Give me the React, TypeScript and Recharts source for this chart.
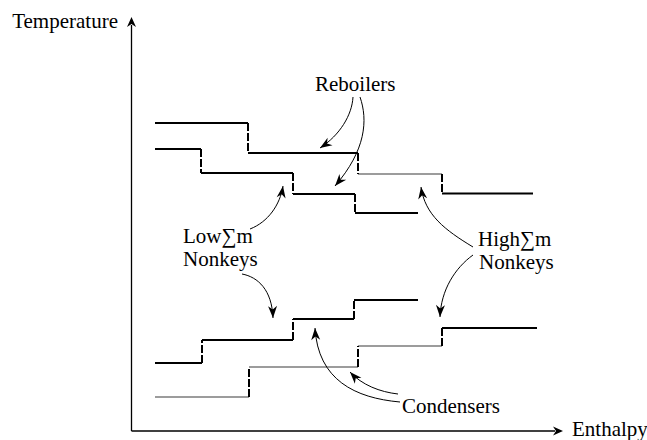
import React from 'react';
import { LineChart, Line, XAxis, YAxis } from 'recharts';

const WIDTH = 647;
const HEIGHT = 440;
const MARGIN = { top: 21, right: 86, bottom: 9, left: 131 };
const X_MAX = 43;
const Y_MAX = 41;

// step profiles: xs = step positions (incl. end), ys = level of each run
const profileAX = [2.4, 11.7, 22.7, 31.1, 40.2];
const profileAY = [30.8, 27.8, 25.7, 23.75];
const profileBX = [2.4, 7.0, 16.2, 22.4, 28.7];
const profileBY = [28.2, 25.8, 23.7, 21.8];
const profileCX = [2.4, 7.1, 16.2, 22.3, 28.7];
const profileCY = [6.8, 9.1, 11.2, 13.1];
const profileDX = [2.4, 11.8, 22.7, 31.1, 40.6];
const profileDY = [3.4, 6.4, 8.5, 10.3];

// annotation arrows (bezier: start, c1, c2, tip) in data units
const arrowPaths = [
  [[22.2, 33.4], [22.1, 31.6], [20.9, 29.6], [18.9, 28.3]],
  [[22.9, 33.4], [23.7, 31.1], [23.5, 28.1], [20.4, 24.5]],
  [[11.9, 20.2], [13.7, 20.9], [14.9, 22.6], [15.2, 24.5]],
  [[11.1, 15.7], [12.7, 15.4], [14.1, 14.1], [14.2, 11.3]],
  [[34.2, 18.4], [31.4, 20.1], [29.4, 21.6], [29.0, 24.4]],
  [[34.2, 17.6], [32.4, 16.3], [31.0, 14.1], [30.9, 11.4]],
  [[26.9, 2.9], [22.4, 3.3], [18.7, 5.1], [18.4, 10.3]],
  [[26.7, 3.7], [24.9, 3.9], [23.1, 4.6], [21.9, 5.9]],
];

const labelTexts = ['Reboilers', 'Low∑m', 'Nonkeys', 'High∑m', 'Nonkeys', 'Condensers'];
const labelPos = [[18.4, 34.0], [5.2, 18.85], [5.2, 16.55], [34.7, 18.5], [34.8, 16.2], [27.1, 1.8]];

const profiles = [
  { id: 'A', xs: profileAX, ys: profileAY, thin: [2] },
  { id: 'B', xs: profileBX, ys: profileBY, thin: [] as number[] },
  { id: 'C', xs: profileCX, ys: profileCY, thin: [] as number[] },
  { id: 'D', xs: profileDX, ys: profileDY, thin: [0, 1, 2] },
];

const sx = (x: number) => MARGIN.left + (x / X_MAX) * (WIDTH - MARGIN.left - MARGIN.right);
const sy = (y: number) => MARGIN.top + (1 - y / Y_MAX) * (HEIGHT - MARGIN.top - MARGIN.bottom);

function arrowHead(tx: number, ty: number, fx: number, fy: number, len = 12, half = 4.5) {
  const a = Math.atan2(ty - fy, tx - fx);
  const ux = Math.cos(a), uy = Math.sin(a);
  const bx = tx - ux * len, by = ty - uy * len;
  const nx = tx - ux * len * 0.7, ny = ty - uy * len * 0.7;
  return `${tx},${ty} ${bx - uy * half},${by + ux * half} ${nx},${ny} ${bx + uy * half},${by - ux * half}`;
}

const FONT = '"Liberation Serif", "DejaVu Serif", serif';
const FS = 21;

export default function App() {
  const series: React.ReactElement[] = [];
  profiles.forEach((p) => {
    p.ys.forEach((y, i) => {
      const thin = p.thin.includes(i);
      series.push(
        <Line
          key={`${p.id}-h${i}`}
          data={[{ x: p.xs[i], y }, { x: p.xs[i + 1], y }]}
          dataKey="y"
          type="linear"
          stroke={thin ? '#3a3a3a' : '#000'}
          strokeWidth={thin ? 1.2 : 2}
          dot={false}
          activeDot={false}
          isAnimationActive={false}
        />
      );
      if (i > 0) {
        series.push(
          <Line
            key={`${p.id}-v${i}`}
            data={[{ x: p.xs[i], y: p.ys[i - 1] }, { x: p.xs[i], y }]}
            dataKey="y"
            type="linear"
            stroke="#000"
            strokeWidth={2}
            strokeDasharray="8 2"
            dot={false}
            activeDot={false}
            isAnimationActive={false}
          />
        );
      }
    });
  });

  const ax = sx(0) + 0.5;
  const ay = sy(0);
  const yTip = 17;
  const xTip = 563;

  return (
    <div style={{ position: 'absolute', left: 0, top: 0, width: WIDTH, height: HEIGHT, background: '#fff' }}>
      <LineChart width={WIDTH} height={HEIGHT} margin={MARGIN}>
        <XAxis dataKey="x" type="number" domain={[0, X_MAX]} hide />
        <YAxis type="number" domain={[0, Y_MAX]} hide />
        {series}
      </LineChart>
      <svg
        width={WIDTH}
        height={HEIGHT}
        style={{ position: 'absolute', left: 0, top: 0, pointerEvents: 'none' }}
      >
        {/* axes */}
        <line x1={ax} y1={ay} x2={ax} y2={yTip + 8} stroke="#000" strokeWidth={1.3} />
        <polygon points={arrowHead(ax, yTip, ax, yTip + 20, 10, 4.5)} fill="#000" />
        <line x1={ax} y1={ay} x2={xTip - 8} y2={ay} stroke="#000" strokeWidth={1.3} />
        <polygon points={arrowHead(xTip, ay, xTip - 20, ay, 10, 4.5)} fill="#000" />
        <text x={118} y={28} textAnchor="end" fontFamily={FONT} fontSize={FS}>Temperature</text>
        <text x={572} y={436} fontFamily={FONT} fontSize={FS}>Enthalpy</text>

        {arrowPaths.map((pts, i) => {
          const [s, c1, c2, t] = pts.map(([x, y]) => [sx(x), sy(y)]);
          return (
            <g key={i}>
              <path
                d={`M${s[0]},${s[1]} C${c1[0]},${c1[1]} ${c2[0]},${c2[1]} ${t[0]},${t[1]}`}
                fill="none"
                stroke="#000"
                strokeWidth={1}
              />
              <polygon points={arrowHead(t[0], t[1], c2[0], c2[1])} fill="#000" />
            </g>
          );
        })}

        {labelTexts.map((txt, i) => (
          <text key={i} x={sx(labelPos[i][0])} y={sy(labelPos[i][1])} fontFamily={FONT} fontSize={FS}>
            {txt}
          </text>
        ))}
      </svg>
    </div>
  );
}
